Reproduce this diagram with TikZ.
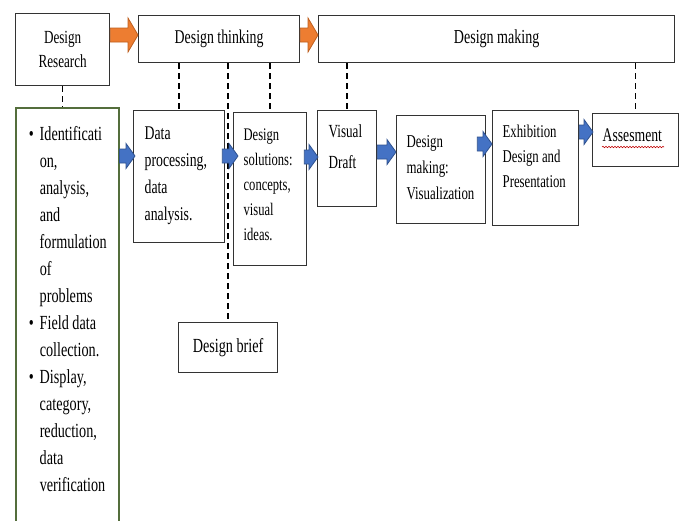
\documentclass[tikz,border=0pt]{standalone}
\usepackage{fontspec}
\setmainfont{Liberation Serif}[FakeStretch=0.71]
\usetikzlibrary{calc,decorations.pathmorphing}
\definecolor{bfill}{RGB}{68,114,196}
\definecolor{bdraw}{RGB}{47,82,143}
\definecolor{ofill}{RGB}{237,125,49}
\definecolor{odraw}{RGB}{190,95,30}
\definecolor{gline}{RGB}{84,110,60}
% #1 fill #2 draw #3 shaft half-height #4 head half-height #5 head length #6 start #7 tip
\newcommand\blockarr[7]{\path[fill=#1,draw=#2,line width=0.8pt,line join=miter] let \p1=#6, \p2=#7 in
  (\x1,{\y1+#3}) -- ({\x2-#5},{\y1+#3}) -- ({\x2-#5},{\y1+#4}) -- (\x2,\y1) -- ({\x2-#5},{\y1-#4}) -- ({\x2-#5},{\y1-#3}) -- (\x1,{\y1-#3}) -- cycle;}
% #1 width #2 height #3 top skip #4 left skip #5 font size #6 baselineskip #7 text
\newcommand\tbox[7]{\parbox[t][#2][t]{#1}{\fontsize{#5}{#6}\selectfont\vspace*{#3}\raggedright\leftskip=#4\relax\strut #7\par}}
\newcommand\bul{\leavevmode\llap{\textbullet\hspace{6pt}}}
\begin{document}
\begin{tikzpicture}[x=1pt,y=-1pt,
  box/.style={draw=black!80, line width=1.3pt, inner sep=0pt, anchor=north west},
  ctr/.style={box, align=center, font=\fontsize{19.5}{24}\selectfont},
  dashline/.style={draw=black, dash pattern=on 6pt off 4pt, line width=1.5pt}]
\useasboundingbox (0,0) rectangle (683,520);
\clip (0,0) rectangle (683,520);
\fill[white] (0,0) rectangle (683,520);
% top row
\node[ctr, font=\fontsize{18.5}{24}\selectfont, minimum width=94pt, minimum height=72pt] (dr) at (15,13) {Design\\Research};
\node[ctr, minimum width=161pt, minimum height=47pt] (dt) at (138,15) {Design thinking};
\node[ctr, font=\fontsize{19.8}{24}\selectfont, minimum width=356pt, minimum height=47pt] (dm) at (318,15) {Design making};
% green list box
\node[box, draw=gline, line width=1.5pt] (gb) at (15,107) {\tbox{103pt}{430pt}{14pt}{24pt}{20}{27}{%
  \bul Identificati\\ on,\\ analysis,\\ and\\ formulation\\ of\\ problems\\
  \bul Field data\\ collection.\\ \bul Display,\\ category,\\ reduction,\\ data\\ verification}};
% process boxes
\node[box] (dp) at (133,110) {\tbox{91pt}{132pt}{10pt}{11pt}{19.4}{27}{Data\\ processing,\\ data\\ analysis.}};
\node[box] (ds) at (233,112) {\tbox{73pt}{153pt}{10.5pt}{10pt}{17.7}{25}{Design\\ solutions:\\ concepts,\\ visual\\ ideas.}};
\node[box] (vd) at (317,110) {\tbox{59pt}{96pt}{5.5pt}{11pt}{18.5}{31}{Visual\\ Draft}};
\node[box] (dmv) at (396,115) {\tbox{89pt}{108pt}{14pt}{10pt}{18.1}{26}{Design\\ making:\\ Visualization}};
\node[box] (ex) at (492,110) {\tbox{86pt}{115pt}{9.5pt}{10pt}{18}{25}{Exhibition\\ Design and\\ Presentation}};
\node[box] (as) at (592,113) {\tbox{86pt}{53pt}{14pt}{10pt}{19.3}{20}{Assesment}};
\node[ctr, font=\fontsize{20}{24}\selectfont, minimum width=99pt, minimum height=50pt] (db) at (178,322) {Design brief};
% dashed links
\draw[dashline] (dr.south) -- (dr.south |- gb.north);
\draw[dashline] (dt.south -| dp.north) -- (dp.north);
\draw[dashline] (dt.south -| db.north) -- (db.north);
\draw[dashline] (dt.south -| ds.north) -- (ds.north);
\draw[dashline] (dm.south -| vd.north) -- (vd.north);
\draw[dashline] (dm.south -| as.north) -- (as.north);
% orange arrows
\blockarr{ofill}{odraw}{7pt}{17pt}{10pt}{(dr.east |- 0,35)}{(dt.west |- 0,35)}
\blockarr{ofill}{odraw}{7pt}{17pt}{10pt}{(dt.east |- 0,35)}{(dm.west |- 0,35)}
% blue arrows
\blockarr{bfill}{bdraw}{7pt}{12.5pt}{9pt}{(gb.east |- 0,156)}{($(dp.west |- 0,156)+(2,0)$)}
\blockarr{bfill}{bdraw}{7pt}{12.5pt}{9pt}{($(dp.east |- 0,156)+(-3,0)$)}{($(ds.west |- 0,156)+(5,0)$)}
\blockarr{bfill}{bdraw}{7pt}{12.5pt}{9pt}{($(ds.east |- 0,157)+(-3,0)$)}{($(vd.west |- 0,157)+(1,0)$)}
\blockarr{bfill}{bdraw}{7pt}{12.5pt}{9pt}{(vd.east |- 0,152)}{(dmv.west |- 0,152)}
\blockarr{bfill}{bdraw}{7pt}{12.5pt}{9pt}{($(dmv.east |- 0,144)+(-9,0)$)}{(ex.west |- 0,144)}
\blockarr{bfill}{bdraw}{7pt}{12.5pt}{9pt}{(ex.east |- 0,132)}{($(as.west |- 0,132)+(1,0)$)}
% spelling squiggle
\draw[red!75!black, line width=0.6pt, decorate, decoration={snake, amplitude=0.7pt, segment length=3pt}]
  ($(as.north west)+(10,34)$) -- ($(as.north west)+(72,34)$);
\end{tikzpicture}
\end{document}
